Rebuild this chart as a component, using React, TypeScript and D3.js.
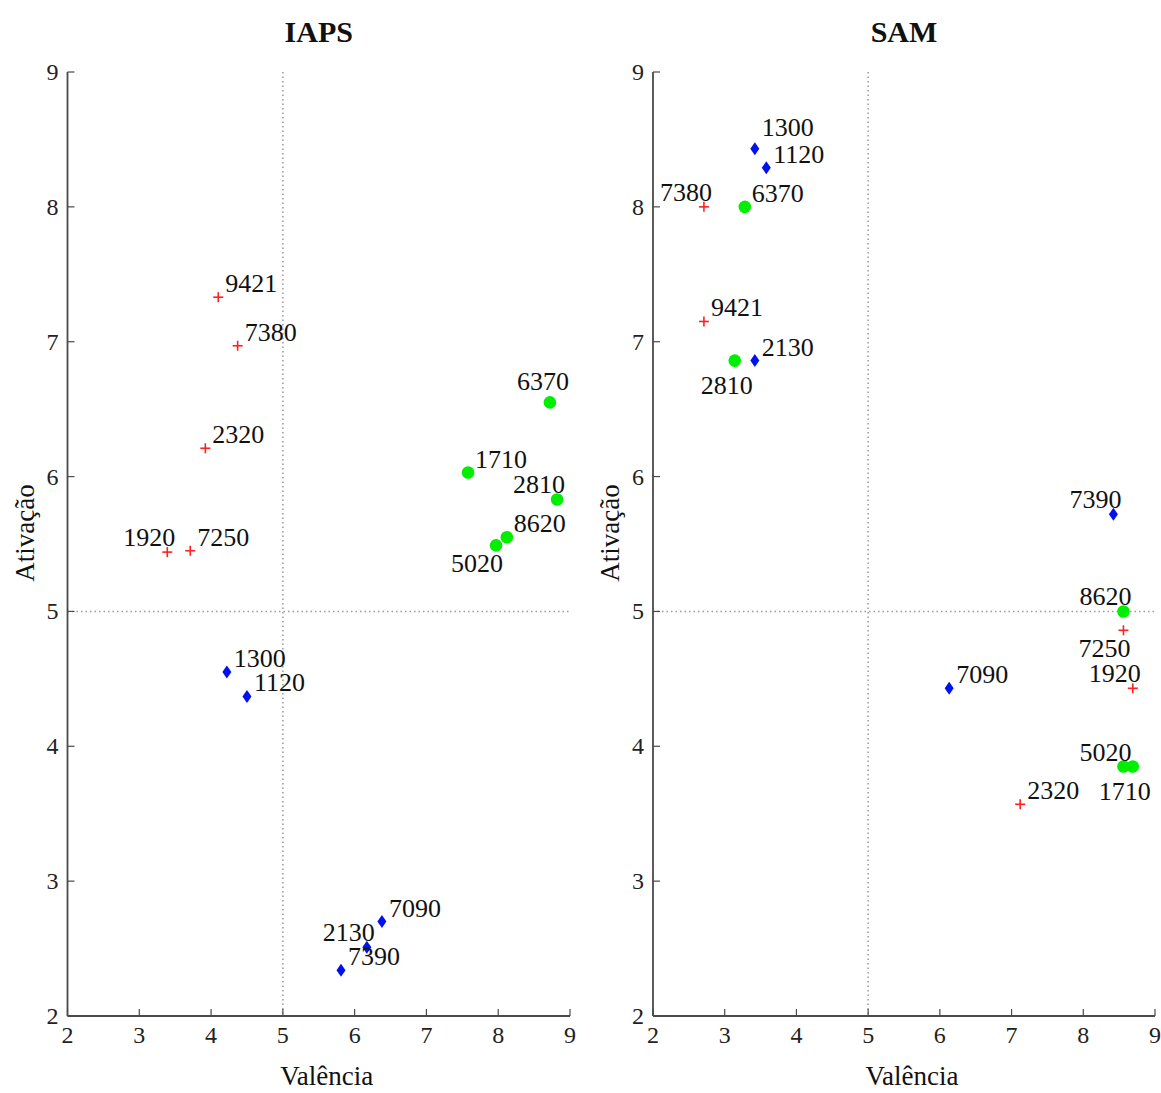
import React from "react";
import * as d3 from "d3";

// ---------- data ----------
const xTicks = [2, 3, 4, 5, 6, 7, 8, 9];
const yTicks = [2, 3, 4, 5, 6, 7, 8, 9];
const panelTitles = ["IAPS", "SAM"];
const xTitle = "Valência";
const yTitle = "Ativação";

// IAPS panel
const iapsIds = ["9421", "7380", "2320", "1920", "7250", "6370", "1710", "2810", "8620", "5020", "1300", "1120", "7090", "2130", "7390"];
const iapsValence = [4.10, 4.37, 3.92, 3.39, 3.71, 8.72, 7.58, 8.82, 8.12, 7.97, 4.22, 4.50, 6.38, 6.17, 5.81];
const iapsArousal = [7.33, 6.97, 6.21, 5.44, 5.45, 6.55, 6.03, 5.83, 5.55, 5.49, 4.55, 4.37, 2.70, 2.51, 2.34];
const iapsGroup = ["neg", "neg", "neg", "neg", "neg", "pos", "pos", "pos", "pos", "pos", "neu", "neu", "neu", "neu", "neu"];
const iapsLabelAt = ["ne", "ne", "ne", "nw", "ne", "n", "ne", "nw", "ne", "sw", "ne", "ne", "ne", "nw", "ne"];

// SAM panel
const samIds = ["1300", "1120", "2130", "7390", "7090", "7380", "9421", "7250", "1920", "2320", "6370", "2810", "8620", "5020", "1710"];
const samValence = [3.42, 3.58, 3.42, 8.42, 6.13, 2.71, 2.71, 8.56, 8.69, 7.12, 3.28, 3.14, 8.56, 8.56, 8.69];
const samArousal = [8.43, 8.29, 6.86, 5.72, 4.43, 8.00, 7.15, 4.86, 4.43, 3.57, 8.00, 6.86, 5.00, 3.85, 3.85];
const samGroup = ["neu", "neu", "neu", "neu", "neu", "neg", "neg", "neg", "neg", "neg", "pos", "pos", "pos", "pos", "pos"];
const samLabelAt = ["nne", "ne", "ne", "nw", "ne", "nw", "ne", "sw", "nw", "ne", "ne", "s", "nw", "nw", "s"];

// ---------- styles ----------
const FONT = "'Liberation Serif', 'DejaVu Serif', serif";
const AXIS_COLOR = "#4a4a4a";
const colors: Record<string, string> = { neg: "#ff2020", pos: "#00ee00", neu: "#0010ee" };

const labelOffset: Record<string, { dx: number; dy: number; anchor: string }> = {
  ne: { dx: 7, dy: -5, anchor: "start" },
  nne: { dx: 7, dy: -13, anchor: "start" },
  nw: { dx: 8, dy: -6, anchor: "end" },
  n: { dx: -7, dy: -12, anchor: "middle" },
  sw: { dx: 7, dy: 27, anchor: "end" },
  s: { dx: -8, dy: 33, anchor: "middle" },
};

function Marker({ group, x, y }: { group: string; x: number; y: number }) {
  const c = colors[group];
  if (group === "neg") {
    return (
      <g stroke={c} strokeWidth={1.6}>
        <line x1={x - 5} x2={x + 5} y1={y} y2={y} />
        <line x1={x} x2={x} y1={y - 5} y2={y + 5} />
      </g>
    );
  }
  if (group === "pos") {
    return <circle cx={x} cy={y} r={6.3} fill={c} />;
  }
  return <path d={`M${x},${y - 6.5}L${x + 4.5},${y}L${x},${y + 6.5}L${x - 4.5},${y}Z`} fill={c} />;
}

function Panel({
  title, x0, x1, ids, vals, arous, groups, labelAt,
}: {
  title: string; x0: number; x1: number; ids: string[]; vals: number[]; arous: number[]; groups: string[]; labelAt: string[];
}) {
  const x = d3.scaleLinear().domain([2, 9]).range([x0, x1]);
  const y = d3.scaleLinear().domain([2, 9]).range([1016, 72]);
  const cx = (x0 + x1) / 2;
  return (
    <g>
      <text x={cx} y={42} textAnchor="middle" fontFamily={FONT} fontWeight="bold" fontSize={30} fill="#111">{title}</text>
      {/* dotted reference lines */}
      <line x1={x(5)} x2={x(5)} y1={y(9)} y2={y(2)} stroke="#9a9a9a" strokeWidth={1.5} strokeDasharray="1.5 3" />
      <line x1={x(2)} x2={x(9)} y1={y(5)} y2={y(5)} stroke="#9a9a9a" strokeWidth={1.5} strokeDasharray="1.5 3" />
      {/* axes */}
      <line x1={x(2)} x2={x(2)} y1={y(9)} y2={y(2)} stroke={AXIS_COLOR} strokeWidth={1.8} />
      <line x1={x(2)} x2={x(9)} y1={y(2)} y2={y(2)} stroke={AXIS_COLOR} strokeWidth={1.8} />
      {xTicks.map((t) => (
        <g key={"xt" + t}>
          <line x1={x(t)} x2={x(t)} y1={y(2)} y2={y(2) - 7} stroke={AXIS_COLOR} strokeWidth={1.2} />
          <text x={x(t)} y={y(2) + 27} textAnchor="middle" fontFamily={FONT} fontSize={24} fill="#222">{t}</text>
        </g>
      ))}
      {yTicks.map((t) => (
        <g key={"yt" + t}>
          <line x1={x(2)} x2={x(2) + 7} y1={y(t)} y2={y(t)} stroke={AXIS_COLOR} strokeWidth={1.2} />
          <text x={x(2) - 9} y={y(t) + 8} textAnchor="end" fontFamily={FONT} fontSize={24} fill="#222">{t}</text>
        </g>
      ))}
      <text x={cx + 8} y={1085} textAnchor="middle" fontFamily={FONT} fontSize={27} fill="#111">{xTitle}</text>
      <text transform={`translate(${x(2) - 34},533) rotate(-90)`} textAnchor="middle" fontFamily={FONT} fontSize={27} fill="#111">{yTitle}</text>
      {/* points */}
      {ids.map((id, i) => {
        const px = x(vals[i]);
        const py = y(arous[i]);
        const o = labelOffset[labelAt[i]];
        return (
          <g key={title + id}>
            <Marker group={groups[i]} x={px} y={py} />
            <text x={px + o.dx} y={py + o.dy} textAnchor={o.anchor} fontFamily={FONT} fontSize={26} fill="#111">{id}</text>
          </g>
        );
      })}
    </g>
  );
}

export default function App() {
  return (
    <svg width={1161} height={1093} style={{ position: "absolute", left: 0, top: 0, background: "#fff" }}>
      <rect width={1161} height={1093} fill="#fff" />
      <Panel title={panelTitles[0]} x0={67.5} x1={570} ids={iapsIds} vals={iapsValence} arous={iapsArousal} groups={iapsGroup} labelAt={iapsLabelAt} />
      <Panel title={panelTitles[1]} x0={653} x1={1155} ids={samIds} vals={samValence} arous={samArousal} groups={samGroup} labelAt={samLabelAt} />
    </svg>
  );
}
